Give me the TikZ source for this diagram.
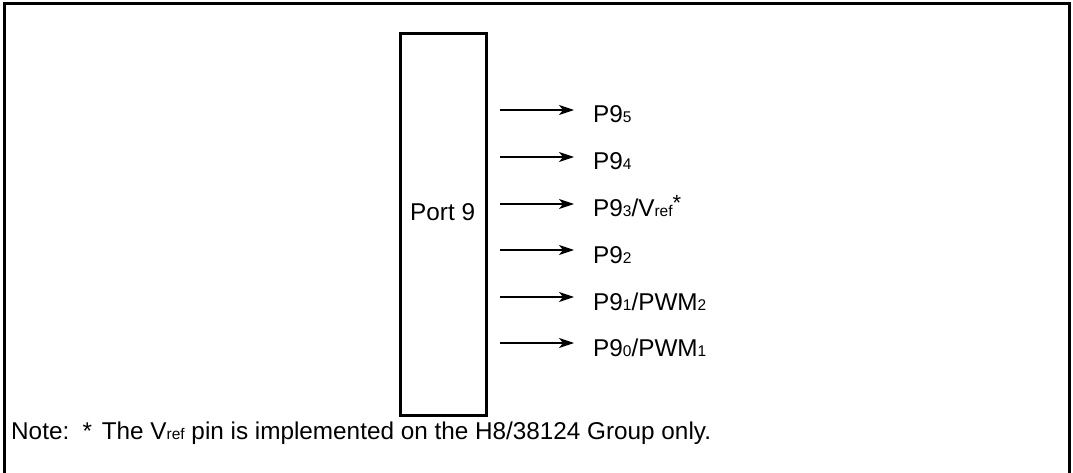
\documentclass[tikz,border=0pt]{standalone}
\usepackage{fontspec}
\setmainfont{Liberation Sans}
\usetikzlibrary{arrows.meta}
\newcommand\subtx[1]{{\fontsize{15.5}{15.5}\selectfont #1}}
\tikzset{
  lbl/.style={anchor=base west, inner sep=0pt, font=\fontsize{24.3}{29}\selectfont},
  sig/.style={line width=1.3pt, -{Stealth[length=15pt,width=10pt,inset=4pt]}},
  frame/.style={line width=3pt},
}
\begin{document}
\begin{tikzpicture}[x=1pt,y=-1pt]
\useasboundingbox (0,0) rectangle (1073,473);
\draw[frame] (4,480) -- (4,4) -- (1069,4) -- (1069,480);
\node[draw, line width=3pt, minimum width=86pt, minimum height=381pt, inner sep=0pt] (port) at (443,224.5) {};
\node[lbl] (portlbl) at (410,220) {Port 9};
\foreach \i/\y/\t in {1/110/{P9\subtx{5}}, 2/157/{P9\subtx{4}}, 3/204/{P9\subtx{3}/V\subtx{ref}\raisebox{6pt}{\fontsize{22}{22}\selectfont*}}, 4/250/{P9\subtx{2}}, 5/297/{P9\subtx{1}/PWM\subtx{2}}, 6/343/{P9\subtx{0}/PWM\subtx{1}}}{
  \coordinate (s\i) at (500,\y);
  \coordinate (e\i) at (574,\y);
  \node[lbl] (l\i) at (593,\y+13) {\t};
  \draw[sig] (s\i) -- (e\i);
}
\node[lbl] (note) at (11,439) {Note:\hspace{0.55em}*\hspace{0.4em}The V\subtx{ref} pin is implemented on the H8/38124 Group only.};
\end{tikzpicture}
\end{document}
